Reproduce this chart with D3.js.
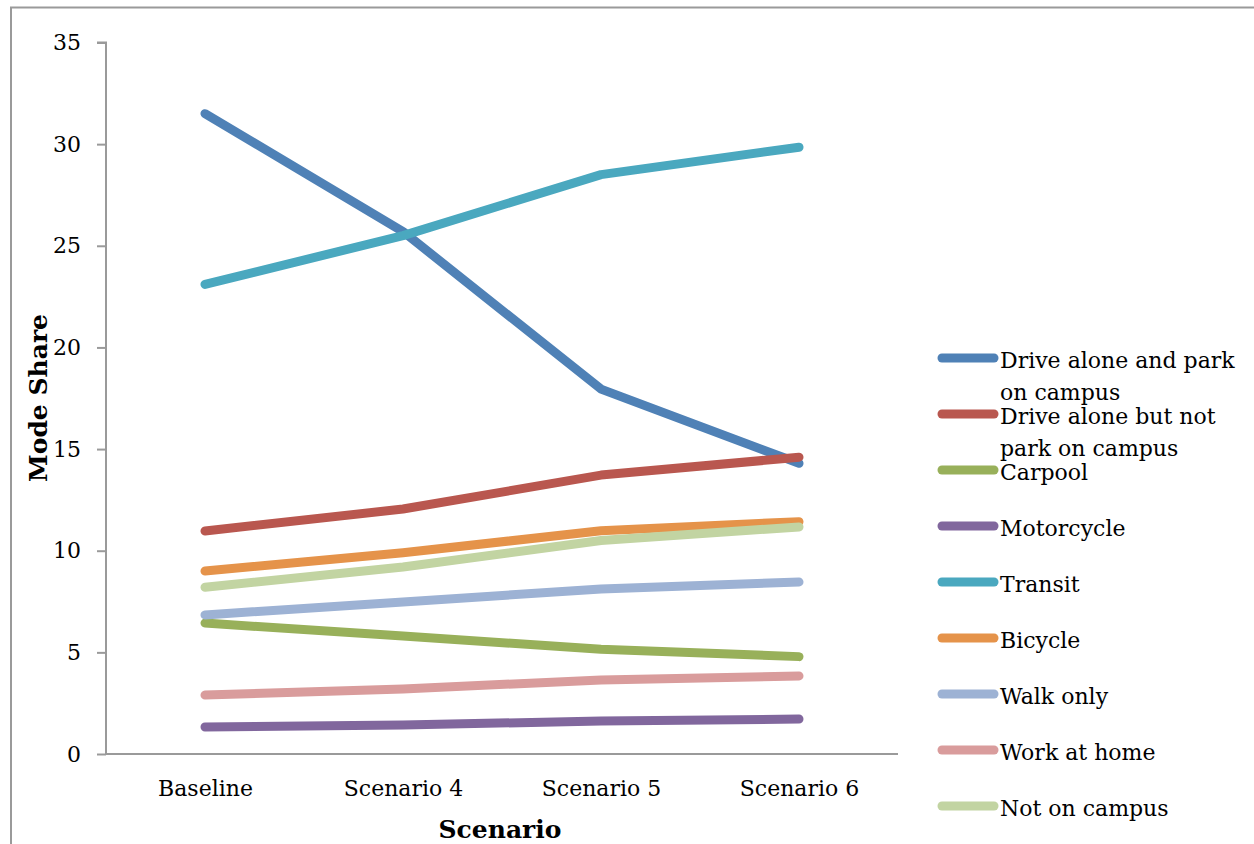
<!DOCTYPE html>
<html><head><meta charset="utf-8">
<script src="https://cdn.jsdelivr.net/npm/d3@7"></script>
<style>body{margin:0;background:#fff;}svg{display:block;font-family:"DejaVu Serif",serif;}</style>
</head><body>
<svg id="chart" width="1254" height="844"></svg>
<script>
const categories = ["Baseline", "Scenario 4", "Scenario 5", "Scenario 6"];
const seriesNames = ["Drive alone and park on campus", "Drive alone but not park on campus", "Carpool", "Motorcycle", "Transit", "Bicycle", "Walk only", "Work at home", "Not on campus"];
const driveAlonePark = [31.5, 25.7, 17.95, 14.3];
const driveAloneNotPark = [10.97, 12.05, 13.72, 14.6];
const carpool = [6.44, 5.8, 5.15, 4.79];
const motorcycle = [1.33, 1.43, 1.62, 1.72];
const transit = [23.1, 25.5, 28.5, 29.85];
const bicycle = [9.0, 9.9, 10.98, 11.43];
const walkOnly = [6.84, 7.48, 8.12, 8.46];
const workAtHome = [2.9, 3.2, 3.64, 3.84];
const notOnCampus = [8.2, 9.2, 10.5, 11.17];
const yTicks = [0, 5, 10, 15, 20, 25, 30, 35];
const colors = ["#4F81B6", "#B9574F", "#98B05A", "#81679D", "#4AA8BF", "#E5934A", "#9DB2D4", "#D99C9C", "#C2D4A2"];

const seriesValues = [driveAlonePark, driveAloneNotPark, carpool, motorcycle, transit, bicycle, walkOnly, workAtHome, notOnCampus];
const series = seriesNames.map((n, i) => ({name: n, values: seriesValues[i], color: colors[i]}));

const svg = d3.select("#chart");
// outer frame
svg.append("path").attr("d", "M11,850 V7.5 H1260").attr("fill", "none").attr("stroke", "#9a9a9a").attr("stroke-width", 2);

const x = d3.scalePoint().domain(categories).range([106, 898]).padding(0.5);
const y = d3.scaleLinear().domain([0, 35]).range([754, 42.5]);

// y axis
const yAxis = svg.append("g").attr("transform", "translate(106,0)")
  .call(d3.axisLeft(y).tickValues(yTicks).tickSize(9).tickPadding(16).tickFormat(d3.format("d")));
yAxis.select(".domain").attr("stroke", "#9a9a9a").attr("stroke-width", 2).attr("d", `M-9,${y(35)}H0V${y(0)}`);
yAxis.selectAll(".tick line").attr("stroke", "#9a9a9a").attr("stroke-width", 2);
yAxis.selectAll(".tick text").attr("font-family", "DejaVu Serif").attr("font-size", 22).attr("fill", "#000");

// x axis
const xAxis = svg.append("g").attr("transform", `translate(0,${y(0)})`)
  .call(d3.axisBottom(x).tickSize(0).tickPadding(26));
xAxis.select(".domain").attr("stroke", "#9a9a9a").attr("stroke-width", 2).attr("d", "M106,0H898");
xAxis.selectAll(".tick text").attr("font-family", "DejaVu Serif").attr("font-size", 22).attr("fill", "#000");

// titles
svg.append("text").attr("x", 500).attr("y", 838).attr("text-anchor", "middle")
  .attr("font-weight", "bold").attr("font-size", 25).text("Scenario");
svg.append("text").attr("transform", "translate(47,398) rotate(-90)").attr("text-anchor", "middle")
  .attr("font-weight", "bold").attr("font-size", 25).text("Mode Share");

// lines
const line = d3.line().x((d, i) => x(categories[i])).y(d => y(d));
svg.append("g").selectAll("path").data(series).join("path")
  .attr("d", d => line(d.values)).attr("fill", "none")
  .attr("stroke", d => d.color).attr("stroke-width", 9)
  .attr("stroke-linecap", "round").attr("stroke-linejoin", "round");

// legend
const leg = svg.append("g");
const rowY = d3.scaleLinear().domain([0, 8]).range([358, 806]);
series.forEach((s, i) => {
  const yy = rowY(i);
  leg.append("line").attr("x1", 942).attr("x2", 994).attr("y1", yy).attr("y2", yy)
    .attr("stroke", s.color).attr("stroke-width", 9).attr("stroke-linecap", "round");
  const t = leg.append("text").attr("x", 1000).attr("y", yy + 10).attr("font-size", 22).attr("fill", "#000");
  const words = s.name.split(" ");
  let lineWords = [], ts = t.append("tspan").attr("x", 1000).attr("y", yy + 10), lineNo = 0;
  words.forEach(w => {
    lineWords.push(w);
    ts.text(lineWords.join(" "));
    if (ts.node().getComputedTextLength() > 240 && lineWords.length > 1) {
      lineWords.pop();
      ts.text(lineWords.join(" "));
      lineWords = [w];
      lineNo++;
      ts = t.append("tspan").attr("x", 1000).attr("y", yy + 10 + lineNo * 32).text(w);
    }
  });
});
</script>
</body></html>
